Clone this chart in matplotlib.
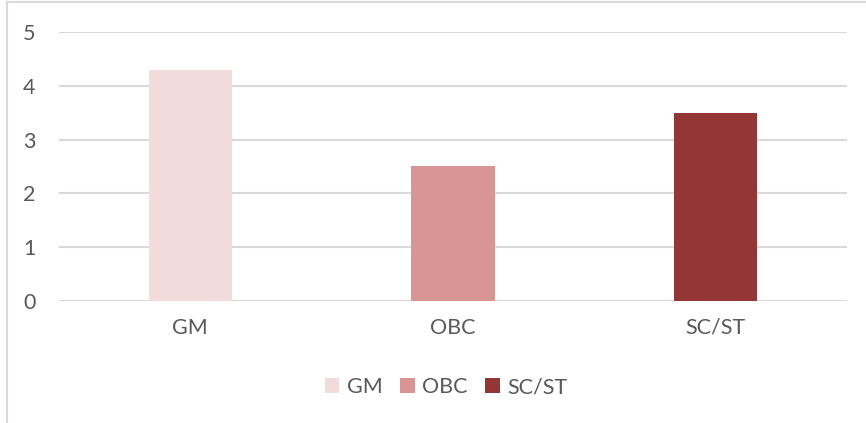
import matplotlib
matplotlib.use("Agg")
import matplotlib.pyplot as plt
from matplotlib.lines import Line2D
from matplotlib.patches import Patch

categories = ["GM", "OBC", "SC/ST"]
values = [4.3, 2.5, 3.5]
colors = ["#F2DCDB", "#D99594", "#943634"]
yticks = [0, 1, 2, 3, 4, 5]

plt.rcParams['font.family'] = ['Lato', 'DejaVu Sans']
W, H = 866, 423
fig = plt.figure(figsize=(W/100, H/100), dpi=100)
ax = fig.add_axes([59/W, 122/H, (847-59)/W, (391-122)/H])

x = list(range(len(categories)))
ax.bar(x, values, width=0.316, color=colors, zorder=3)
ax.set_xlim(-0.5, 2.5)
ax.set_ylim(0, 5)
ax.set_yticks(yticks)
ax.set_yticklabels([str(t) for t in yticks], fontsize=15.5, color="#595959")
ax.set_xticks(x)
ax.set_xticklabels(categories, fontsize=15.5, color="#595959")
ax.tick_params(axis='both', length=0)
ax.tick_params(axis='y', pad=17)
ax.tick_params(axis='x', pad=12)
ax.yaxis.grid(True, color="#D9D9D9", linewidth=1.5, zorder=0)
for s in ax.spines.values():
    s.set_visible(False)

handles = [Patch(facecolor=c, edgecolor='none') for c in colors]
fig.legend(handles, categories, loc='center', bbox_to_anchor=(446/W, 1-387/H),
           ncol=3, frameon=False, fontsize=15.5, labelcolor="#595959",
           handlelength=0.68, handleheight=0.68, handletextpad=0.35, columnspacing=0.8)

fig.add_artist(Line2D([6.5/W, 1], [1-2.5/H, 1-2.5/H], color="#D9D9D9", linewidth=1.5, transform=fig.transFigure))
fig.add_artist(Line2D([6.5/W, 6.5/W], [0, 1-2.5/H], color="#D9D9D9", linewidth=1.5, transform=fig.transFigure))

fig.savefig("out.png", dpi=100)
